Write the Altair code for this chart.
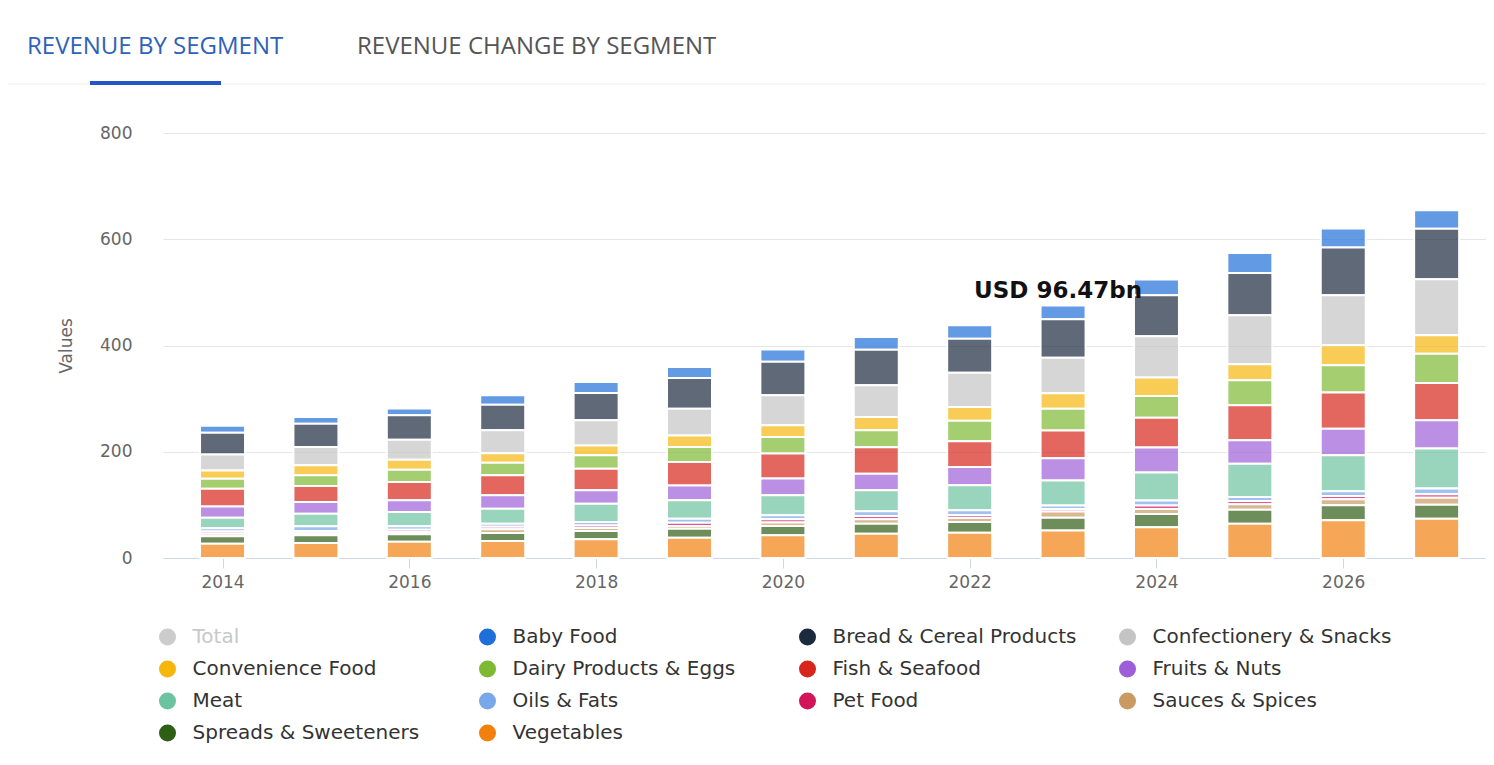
import altair as alt
import pandas as pd

# ---------------- data ----------------
years = list(range(2014, 2028))
segments = [
    "Baby Food", "Bread & Cereal Products", "Confectionery & Snacks",
    "Convenience Food", "Dairy Products & Eggs", "Fish & Seafood",
    "Fruits & Nuts", "Meat", "Oils & Fats", "Pet Food", "Sauces & Spices",
    "Spreads & Sweeteners", "Vegetables",
]
baby_food     = [13.2, 12.6, 12.6, 17.6, 20.7, 20.7, 23.2, 23.8, 25.1, 25.7, 29.5, 37.7, 35.8, 34.5]
bread_cereal  = [40.8, 43.9, 45.8, 48.3, 51.5, 57.7, 62.8, 67.1, 64.0, 72.8, 77.0, 79.7, 89.7, 95.4]
confectionery = [30.1, 34.5, 37.7, 43.3, 47.1, 50.2, 56.5, 59.6, 64.6, 66.5, 78.0, 92.2, 94.1, 105.4]
convenience   = [15.7, 18.8, 18.8, 17.6, 18.8, 22.0, 22.0, 25.1, 25.7, 29.5, 34.5, 30.1, 37.7, 34.5]
dairy_eggs    = [18.8, 20.1, 23.2, 23.8, 25.1, 28.2, 31.4, 32.0, 38.9, 40.8, 41.0, 47.1, 51.5, 55.2]
fish_seafood  = [33.3, 30.1, 34.5, 37.7, 40.8, 43.9, 47.1, 49.6, 48.3, 52.0, 56.0, 65.9, 67.8, 70.3]
fruits_nuts   = [21.3, 22.0, 22.0, 25.1, 25.1, 28.2, 31.4, 31.4, 34.5, 42.0, 47.0, 43.9, 50.2, 53.3]
meat          = [20.0, 23.8, 27.0, 28.2, 34.5, 34.5, 37.7, 39.5, 47.1, 47.0, 53.0, 62.8, 67.8, 75.3]
oils_fats     = [6.0, 8.8, 6.3, 5.6, 6.3, 7.5, 7.5, 8.8, 9.4, 6.9, 9.4, 7.5, 8.8, 10.7]
pet_food      = [4.0, 4.4, 4.4, 5.0, 5.0, 6.3, 6.3, 6.3, 5.0, 4.4, 6.3, 6.3, 6.3, 6.3]
sauces_spices = [5.0, 3.8, 4.4, 6.9, 5.6, 5.0, 6.3, 8.2, 7.5, 11.9, 9.4, 10.0, 11.3, 13.2]
spreads_sweet = [13.8, 14.4, 13.8, 15.1, 15.7, 16.9, 17.6, 18.8, 20.1, 23.8, 25.0, 26.4, 28.2, 26.4]
vegetables    = [27.0, 28.2, 30.7, 32.0, 35.1, 38.3, 42.7, 45.8, 47.7, 52.0, 58.0, 64.6, 70.9, 74.0]

series = [baby_food, bread_cereal, confectionery, convenience, dairy_eggs,
          fish_seafood, fruits_nuts, meat, oils_fats, pet_food, sauces_spices,
          spreads_sweet, vegetables]

legend_names = ["Total"] + segments
legend_colors = ["#cccccc", "#1f6fd8", "#1b2a3d", "#c4c4c4", "#f6b60d",
                 "#7db932", "#d7261b", "#9d5fd8", "#6cc39f", "#78a8ea",
                 "#d2145a", "#c99b63", "#2f5e15", "#f2800f"]

tab_labels = ["REVENUE BY SEGMENT", "REVENUE CHANGE BY SEGMENT"]
annotation_year = 2023
annotation_text = "USD 96.47bn"
y_ticks = [0, 200, 400, 600, 800]
x_ticks = [2014, 2016, 2018, 2020, 2022, 2024, 2026]

# ---------------- tables ----------------
rows = []
for si, (name, vals) in enumerate(zip(segments, series)):
    for yr, v in zip(years, vals):
        rows.append({"year": yr, "segment": name, "value": v,
                     "stack_order": len(segments) - 1 - si})
df = pd.DataFrame(rows)

ann_total = sum(s[years.index(annotation_year)] for s in series)
df_ann = pd.DataFrame({"year": [annotation_year], "total": [ann_total],
                       "label": [annotation_text]})

xscale = alt.Scale(domain=[2013.416, 2027.475], nice=False, zero=False)
yscale = alt.Scale(domain=[0, 800], nice=False, zero=True)

bars = alt.Chart(df).mark_bar(
    width=45, fillOpacity=0.7, stroke="white", strokeWidth=2
).encode(
    x=alt.X("year:Q", scale=xscale, axis=alt.Axis(
        values=x_ticks, format="d", title=None, grid=False,
        labelFont="DejaVu Sans", labelFontSize=17, labelColor="#666666",
        tickColor="#ccd6eb", tickSize=10, domainColor="#ccd6eb",
        labelPadding=6)),
    y=alt.Y("value:Q", stack="zero", scale=yscale, title="Values", axis=alt.Axis(
        values=y_ticks, grid=True, gridColor="#e6e6e6", ticks=False,
        domain=False, labelFont="DejaVu Sans", labelFontSize=17,
        labelColor="#666666", labelPadding=31, titleFont="DejaVu Sans",
        titleFontSize=17, titleFontWeight="normal", titleColor="#666666",
        titlePadding=24)),
    color=alt.Color("segment:N", scale=alt.Scale(domain=legend_names, range=legend_colors),
                    legend=alt.Legend(
                        title=None, orient="none", legendX=-5.5, legendY=494,
                        direction="horizontal", columns=4, gridAlign="all",
                        columnPadding=41, rowPadding=12, padding=0,
                        symbolType="circle", symbolSize=290, symbolOpacity=1,
                        symbolStrokeWidth=0, labelFont="DejaVu Sans",
                        labelFontSize=20,
                        labelColor=alt.ExprRef(expr="datum.label == 'Total' ? '#c8c8c8' : '#333333'"),
                        labelOffset=15, labelLimit=330)),
    order=alt.Order("stack_order:Q", sort="ascending"),
)

ann = alt.Chart(df_ann).mark_text(
    font="DejaVu Sans", fontWeight="bold", fontSize=23, color="#111111",
    align="center", baseline="alphabetic", dy=-7, dx=-5
).encode(
    x=alt.X("year:Q", scale=xscale),
    y=alt.Y("total:Q", scale=yscale, title="Values"),
    text="label:N",
)

tab1 = alt.Chart(pd.DataFrame({"t": [tab_labels[0]]})).mark_text(
    font="Open Sans", fontSize=24, fontWeight=500, color="#2d62b8",
    align="left", baseline="middle"
).encode(x=alt.value(-136), y=alt.value(-86), text="t:N")

tab2 = alt.Chart(pd.DataFrame({"t": [tab_labels[1]]})).mark_text(
    font="Open Sans", fontSize=24, fontWeight=500, color="#555555",
    align="left", baseline="middle"
).encode(x=alt.value(194), y=alt.value(-86), text="t:N")

sep = alt.Chart(pd.DataFrame({"t": [0]})).mark_rule(color="#eeeeee", strokeWidth=1).encode(
    x=alt.value(-155), x2=alt.value(1323), y=alt.value(-49))

underline = alt.Chart(pd.DataFrame({"t": [0]})).mark_rule(color="#2456c8", strokeWidth=4).encode(
    x=alt.value(-73), x2=alt.value(58), y=alt.value(-50))

chart = alt.layer(sep, underline, tab1, tab2, bars, ann).properties(
    width=1323, height=425,
    padding={"left": 155, "top": 125, "right": 0, "bottom": 199},
    autosize=alt.AutoSizeParams(type="none"),
    background="white",
).configure_view(strokeWidth=0)

chart.save("out.html", embed_options={"renderer": "svg", "actions": False})
